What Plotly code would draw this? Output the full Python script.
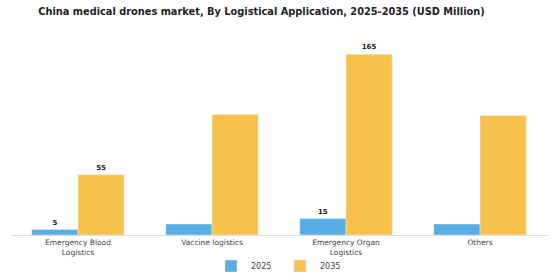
import plotly.graph_objects as go

categories = ["Emergency Blood<br>Logistics", "Vaccine logistics", "Emergency Organ<br>Logistics", "Others"]
values_2025 = [5, 10, 15, 10]
values_2035 = [55, 110, 165, 109]
labels_2025 = ["5", "", "15", ""]
labels_2035 = ["55", "", "165", ""]

fig = go.Figure()
fig.add_trace(go.Bar(x=categories, y=values_2025, name="2025", marker_color="#5AADE3",
                     text=labels_2025, textposition="outside", cliponaxis=False,
                     textfont=dict(size=7, color="#222", family="DejaVu Sans", weight="bold")))
fig.add_trace(go.Bar(x=categories, y=values_2035, name="2035", marker_color="#F6C24C",
                     text=labels_2035, textposition="outside", cliponaxis=False,
                     textfont=dict(size=7, color="#222", family="DejaVu Sans", weight="bold")))

fig.update_layout(
    width=560, height=280,
    margin=dict(l=11, r=13, t=40, b=45, autoexpand=False),
    paper_bgcolor="white", plot_bgcolor="white",
    barmode="group", bargap=0.31, bargroupgap=0,
    title=dict(text="<b>China medical drones market, By Logistical Application, 2025-2035 (USD Million)</b>",
               x=0.467, xanchor="center", xref="container", y=0.96, yanchor="middle",
               font=dict(family="DejaVu Sans", size=9.8, color="#222")),
    font=dict(family="DejaVu Sans", size=7.5, color="#444"),
    legend=dict(orientation="h", x=0.5, xanchor="center", xref="container",
                y=0.05, yanchor="middle", yref="container", bgcolor="rgba(0,0,0,0)",
                font=dict(size=8, color="#444"), entrywidth=24, entrywidthmode="pixels"),
    showlegend=True,
)
fig.update_xaxes(showline=True, linecolor="#ddd", linewidth=1, ticks="", tickfont=dict(size=7.5, color="#444"))
fig.update_yaxes(visible=False, range=[0, 178])

fig.write_html("out.html")
